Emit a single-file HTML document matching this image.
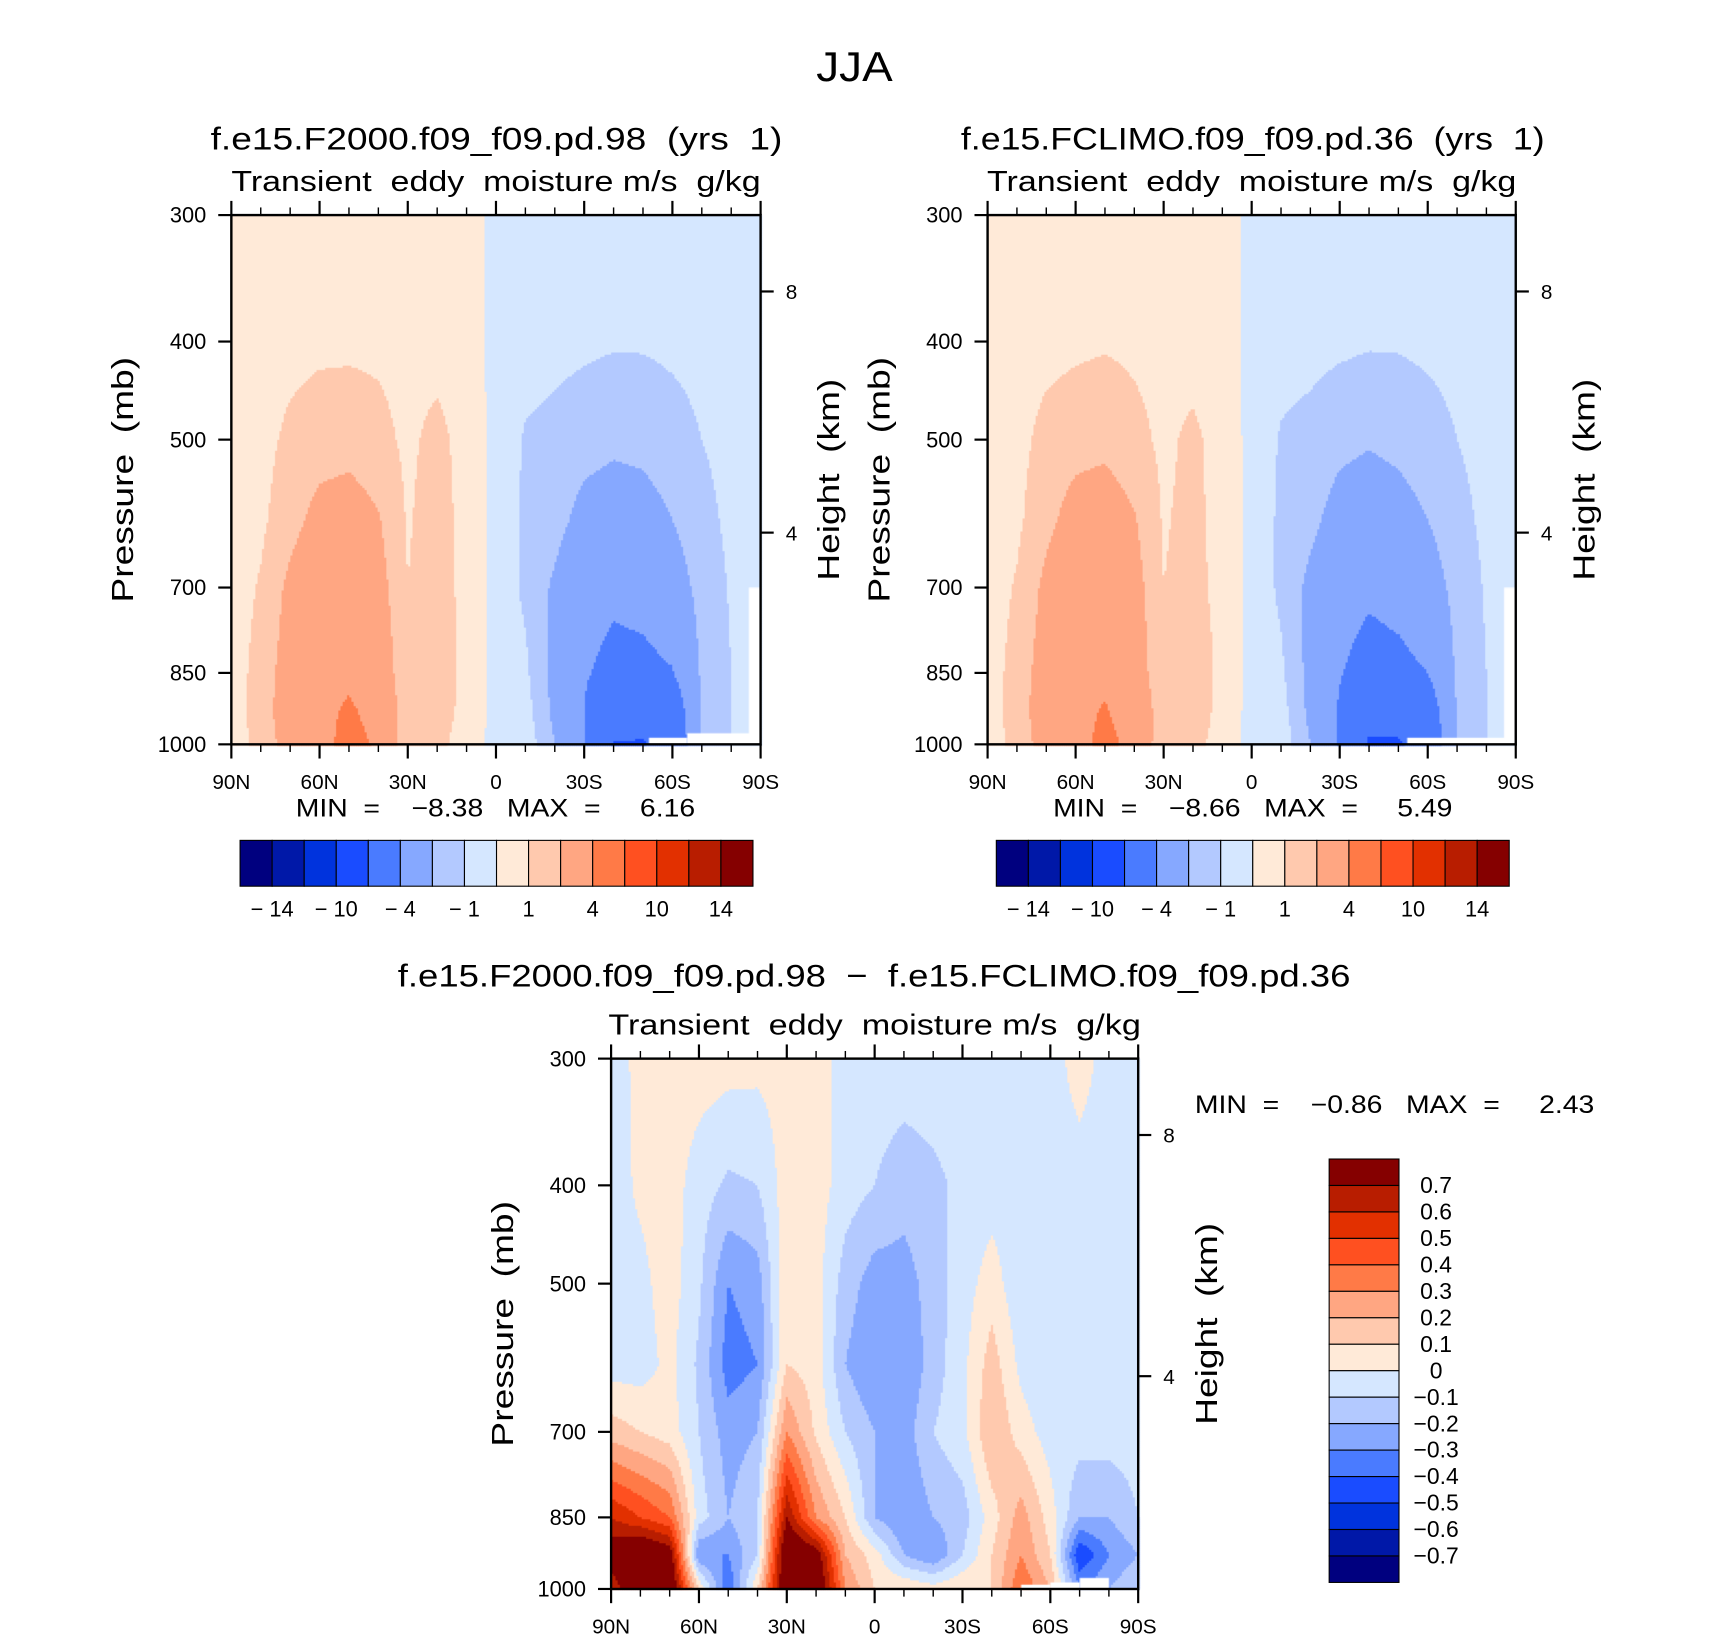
<!DOCTYPE html>
<html><head><meta charset="utf-8"><style>
html,body{margin:0;padding:0;background:#fff;}
#wrap{position:relative;width:1710px;height:1636px;overflow:hidden;}
#cv{position:absolute;left:0;top:0;width:1710px;height:1636px;}
#sv{position:absolute;left:0;top:0;}
text{font-family:"Liberation Sans",sans-serif;fill:#000;white-space:pre;}
</style></head><body>
<div id="wrap">
<canvas id="cv" width="1567" height="1499"></canvas>
<svg id="sv" width="1710" height="1636" viewBox="0 0 1567 1499"></svg>
</div>
<script>
// ---- data ----
const lats = [90,80,70,60,50,40,30,20,10,0,-10,-20,-30,-40,-50,-60,-70,-80,-90];
const levels = [300,400,500,600,700,850,925,1000];
const colors = ["#00007f","#0018a8","#0033dd","#1a4cff","#4a7bff","#86a8ff","#b3c9ff","#d5e7ff","#ffead8","#ffc9ae","#ffa682","#ff7a47","#ff5020","#e23000","#b81d00","#850000"];
const boundsTop = [-14,-12,-10,-8,-4,-2,-1,0,1,2,4,8,10,12,14];
const boundsDiff = [-0.7,-0.6,-0.5,-0.4,-0.3,-0.2,-0.1,0,0.1,0.2,0.3,0.4,0.5,0.6,0.7];
const topTickLabels = ["-14","-10","-4","-1","1","4","10","14"];
const diffTickLabels = ["0.7","0.6","0.5","0.4","0.3","0.2","0.1","0","-0.1","-0.2","-0.3","-0.4","-0.5","-0.6","-0.7"];
const latLabels = ["90N","60N","30N","0","30S","60S","90S"];
const pLabels = [300,400,500,700,850,1000];
const fieldA = [
[0.5,0.5,0.5,0.5,0.5,0.5,0.5,0.5,0.5,-0.3,-0.5,-0.5,-0.5,-0.6,-0.6,-0.6,-0.5,-0.5,-0.5],
[0.5,0.6,0.7,0.8,0.8,0.8,0.7,0.6,0.5,-0.3,-0.6,-0.7,-0.8,-0.9,-0.9,-0.8,-0.7,-0.6,-0.5],
[0.5,0.7,1.2,1.5,1.6,1.3,0.8,1.3,0.6,-0.3,-1.1,-1.3,-1.6,-1.8,-1.7,-1.4,-1.0,-0.7,-0.5],
[0.5,0.8,1.6,2.4,2.6,2.1,0.9,1.5,0.6,-0.3,-1.2,-1.6,-2.4,-2.6,-2.5,-2.0,-1.3,-0.8,-0.5],
[0.5,1.1,2.3,3.1,3.2,2.5,1.0,1.6,0.6,-0.3,-1.2,-2.2,-3.2,-3.6,-3.4,-2.7,-1.6,-0.9,-0.5],
[0.5,1.4,2.6,3.5,3.7,3.0,1.1,1.8,0.6,-0.3,-0.8,-2.4,-3.8,-4.6,-4.5,-4.1,-1.8,-1.0,-0.5],
[0.5,1.5,2.7,3.6,4.2,3.5,1.2,1.6,0.6,-0.3,-0.6,-2.3,-4.0,-6.5,-6.0,-5.5,-1.9,-1.0,-0.5],
[0.5,1.3,2.6,3.5,4.5,3.8,1.0,1.3,0.5,-0.3,-0.4,-2.0,-4.0,-8.2,-8.3,-6.0,-2.0,-1.0,-0.5]];
const fieldB = [
[0.5,0.5,0.5,0.5,0.5,0.5,0.5,0.5,0.5,-0.3,-0.5,-0.5,-0.5,-0.6,-0.6,-0.6,-0.5,-0.5,-0.5],
[0.5,0.6,0.7,0.8,0.9,0.8,0.7,0.6,0.5,-0.3,-0.6,-0.7,-0.8,-0.9,-0.9,-0.8,-0.7,-0.6,-0.5],
[0.5,0.7,1.3,1.6,1.7,1.3,0.8,1.2,0.6,-0.3,-1.1,-1.3,-1.7,-1.9,-1.7,-1.4,-1.0,-0.7,-0.5],
[0.5,0.8,1.7,2.5,2.7,2.1,0.9,1.3,0.6,-0.3,-1.2,-1.7,-2.5,-2.7,-2.5,-2.0,-1.3,-0.8,-0.5],
[0.5,1.1,2.3,3.2,3.3,2.5,1.0,1.4,0.6,-0.3,-1.2,-2.3,-3.3,-3.7,-3.4,-2.7,-1.6,-0.9,-0.5],
[0.5,1.4,2.6,3.5,3.7,2.8,1.1,1.9,0.6,-0.3,-0.8,-2.4,-3.9,-4.7,-4.5,-4.0,-1.8,-1.0,-0.5],
[0.5,1.5,2.7,3.6,4.1,3.3,1.2,1.7,0.6,-0.3,-0.6,-2.3,-4.2,-6.8,-6.1,-5.3,-1.9,-1.0,-0.5],
[0.5,1.3,2.6,3.5,4.4,3.6,1.0,1.4,0.5,-0.3,-0.4,-2.0,-4.2,-8.4,-8.5,-6.0,-2.0,-1.0,-0.5]];
const fieldDiff = [
[-0.05,0.03,0.05,0.05,0.04,0.03,0.04,0.05,-0.05,-0.05,-0.05,-0.05,-0.05,-0.05,-0.05,-0.05,0.05,-0.05,-0.05],
[-0.05,0.02,0.05,-0.05,-0.12,-0.1,0.05,0.05,-0.05,-0.1,-0.15,-0.12,-0.08,-0.05,-0.05,-0.05,-0.05,-0.05,-0.05],
[-0.05,-0.03,0.05,-0.08,-0.3,-0.25,0.08,0.04,-0.15,-0.25,-0.25,-0.15,-0.05,0.05,-0.08,-0.08,-0.05,-0.05,-0.05],
[-0.05,-0.05,0.03,-0.12,-0.35,-0.3,0.1,0.05,-0.2,-0.3,-0.3,-0.15,-0.03,0.15,-0.03,-0.1,-0.05,-0.05,-0.05],
[0.15,0.1,0.05,-0.1,-0.25,-0.2,0.3,0.08,-0.1,-0.2,-0.25,-0.1,-0.03,0.2,0.05,-0.05,-0.05,-0.05,-0.05],
[0.6,0.5,0.4,-0.05,-0.2,-0.1,0.7,0.3,0.1,-0.2,-0.3,-0.2,-0.15,0.05,0.25,0.05,-0.2,-0.2,-0.1],
[0.8,0.9,0.8,-0.3,-0.3,-0.1,0.9,0.8,0.2,0.05,-0.2,-0.3,-0.1,0.1,0.3,0.1,-0.5,-0.3,-0.2],
[0.6,0.9,0.9,0.1,-0.4,0.1,0.9,0.9,0.3,0.1,0.1,0.05,0.1,0.1,0.4,0.2,-0.3,-0.2,-0.1]];

// ---- helpers ----
const NS="http://www.w3.org/2000/svg";
const svg=document.getElementById('sv');
const ctx=document.getElementById('cv').getContext('2d');
function el(tag,attrs,parent){const e=document.createElementNS(NS,tag);for(const k in attrs)e.setAttribute(k,attrs[k]);(parent||svg).appendChild(e);return e;}
function txt(s,x,y,size,anchor,name,len,parent){
  const a={x:x,y:y,'font-size':size,'text-anchor':anchor||'middle'};
  if(len){a.textLength=len;a.lengthAdjust='spacingAndGlyphs';}
  const t=el('text',a,parent);t.textContent=s;
  
  
  return t;}
const LN=Math.log(1000/300);
function yOfP(p,y0,h){return y0+h*Math.log(p/300)/LN;}
function xOfLat(lat,x0,w){return x0+w*(90-lat)/180;}
function sample(field,lat,p){
  let fi=(90-lat)/10; let i=Math.min(17,Math.max(0,Math.floor(fi))); let tx=fi-i;
  let lp=Math.log(p); let j=0;
  while(j<levels.length-2 && Math.log(levels[j+1])<lp) j++;
  let ty=(lp-Math.log(levels[j]))/(Math.log(levels[j+1])-Math.log(levels[j]));
  ty=Math.max(0,Math.min(1,ty));
  const a=field[j][i],b=field[j][i+1],c=field[j+1][i],d=field[j+1][i+1];
  return (a*(1-tx)+b*tx)*(1-ty)+(c*(1-tx)+d*tx)*ty;}
function colIdx(v,bounds){let k=0;while(k<bounds.length&&v>bounds[k])k++;return k;}

function panel(x0,y0,w,h,field,bounds,title,tlen,sub,slen,minmax,mmx,mmlen,mmy,prefix,whites){
  const g=el('g',{});
  
  
  const step=2;
  for(let y=y0;y<y0+h;y+=step){
    const p=300*Math.exp(LN*((y+step/2-y0)/h));
    for(let x=x0;x<x0+w;x+=step){
      const lat=90-180*((x+step/2-x0)/w);
      ctx.fillStyle=colors[colIdx(sample(field,lat,p),bounds)];
      ctx.fillRect(x,y,step+0.5,step+0.5);
    }}
  ctx.fillStyle='#fff';
  whites.forEach(r=>{const xa=xOfLat(r[0],x0,w),xb=xOfLat(r[2],x0,w),yt=yOfP(r[1],y0,h);
    ctx.fillRect(Math.min(xa,xb),yt,Math.abs(xb-xa),y0+h-yt);});
  const fr=el('rect',{x:x0,y:y0,width:w,height:h,fill:'none',stroke:'#000','stroke-width':2.2},g);
  
  
  for(let lat=90;lat>=-90;lat-=10){
    const x=xOfLat(lat,x0,w);const major=lat%30===0;const L=major?13:7;
    el('line',{x1:x,x2:x,y1:y0,y2:y0-L,stroke:'#000','stroke-width':major?2:1.3},g);
    el('line',{x1:x,x2:x,y1:y0+h,y2:y0+h+L,stroke:'#000','stroke-width':major?2:1.3},g);
  }
  latLabels.forEach((s,i)=>txt(s,x0+w*i/6,y0+h+41,19,'middle',prefix+'-lat-label',null,g));
  pLabels.forEach(p=>{const y=yOfP(p,y0,h);el('line',{x1:x0,x2:x0-12,y1:y,y2:y,stroke:'#000','stroke-width':2},g);
    txt(String(p),x0-23,y+7,20,'end',prefix+'-pressure-label',null,g);});
  [[8,70],[4,291]].forEach(a=>{el('line',{x1:x0+w,x2:x0+w+12,y1:y0+a[1],y2:y0+a[1],stroke:'#000','stroke-width':2},g);
    txt(String(a[0]),x0+w+23,y0+a[1]+7,19,'start',prefix+'-height-label',null,g);});
  let t=txt('Pressure  (mb)',0,0,28,'middle',prefix+'-y-axis-title',225,g);
  t.setAttribute('transform',`translate(${x0-90},${y0+h/2}) rotate(-90)`);
  t=txt('Height  (km)',0,0,28,'middle',prefix+'-right-axis-title',185,g);
  t.setAttribute('transform',`translate(${x0+w+72},${y0+h/2}) rotate(-90)`);
  txt(title[0],title[1],title[2],29,'middle',prefix+'-title',tlen,g);
  txt(sub,x0+w/2,y0-22,26,'middle',prefix+'-subtitle',slen,g);
  txt(minmax,mmx,mmy,23,'start',prefix+'-min-max',mmlen,g);
}
function hbar(x0,y0,w,h,prefix){
  const g=el('g',{});
  
  
  const bw=w/colors.length;
  colors.forEach((c,i)=>{const r=el('rect',{x:x0+i*bw,y:y0,width:bw,height:h,fill:c,stroke:'#000','stroke-width':1},g);
    
    });
  topTickLabels.forEach((s,i)=>txt(s.replace('-','\u2212 '),x0+bw*(1+2*i),y0+h+28,20,'middle',prefix+'-colorbar-label',null,g));
}
function vbar(x0,y0,w,h){
  const g=el('g',{});
  
  
  const bh=h/colors.length;
  colors.slice().reverse().forEach((c,i)=>{const r=el('rect',{x:x0,y:y0+i*bh,width:w,height:bh,fill:c,stroke:'#000','stroke-width':1},g);
    
    });
  diffTickLabels.forEach((s,i)=>txt(s.replace('-','\u2212'),x0+w+34,y0+bh*(i+1)+7,21,'middle','diff-colorbar-label',null,g));
}

txt('JJA',783,74,38,'middle','figure-title',70);
panel(212,197,485,485,fieldA,boundsTop,['f.e15.F2000.f09_f09.pd.98  (yrs  1)',455,137],524,
  'Transient  eddy  moisture m/s  g/kg',485,'MIN  =    \u22128.38   MAX  =     6.16',271,366,748,'left',
  [[-52,985,-65],[-65,975,-90],[-86,700,-90]]);
hbar(220,770,470,42,'left');
panel(905,197,484,485,fieldB,boundsTop,['f.e15.FCLIMO.f09_f09.pd.36  (yrs  1)',1148,137],535,
  'Transient  eddy  moisture m/s  g/kg',485,'MIN  =    \u22128.66   MAX  =     5.49',965,366,748,'right',
  [[-53,985,-90],[-86,700,-90]]);
hbar(913,770,470,42,'right');
panel(560,970,483,486,fieldDiff,boundsDiff,['f.e15.F2000.f09_f09.pd.98  \u2212  f.e15.FCLIMO.f09_f09.pd.36',801,904],873,
  'Transient  eddy  moisture m/s  g/kg',488,'MIN  =    \u22120.86   MAX  =     2.43',1095,366,1020,'diff',
  [[-50,990,-60],[-60,985,-70],[-70,975,-80]]);
vbar(1218,1062,64,388);
</script>
</body></html>
